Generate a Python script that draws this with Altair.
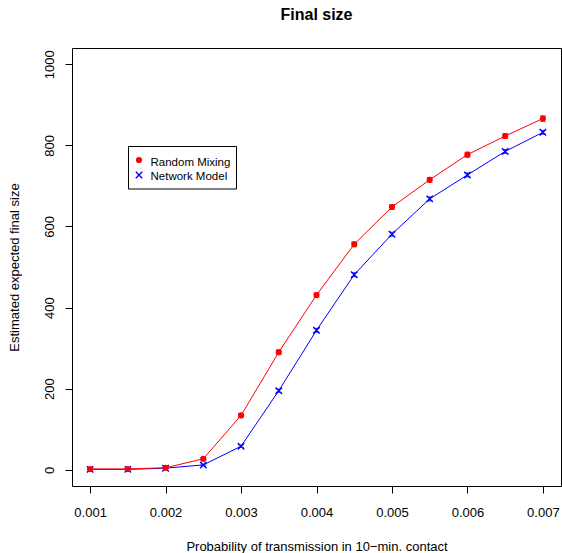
import altair as alt
import pandas as pd

# Transmission probabilities per 10-minute contact
p_transmission = [0.001, 0.0015, 0.002, 0.0025, 0.003, 0.0035, 0.004,
                  0.0045, 0.005, 0.0055, 0.006, 0.0065, 0.007]

# Estimated expected final size and its standard error, per model
random_mixing = [2, 2, 5, 27, 134, 290, 431, 556, 648, 715, 777, 823, 866]
random_mixing_se = [1, 1, 1, 3, 4, 5, 5, 6, 6, 6, 6, 6, 7]
network_model = [1, 1, 4, 12, 58, 195, 344, 481, 581, 668, 727, 785, 832]
network_model_se = [1, 1, 1, 2, 3, 4, 5, 5, 5, 5, 5, 5, 5]

x_ticks = [0.001, 0.002, 0.003, 0.004, 0.005, 0.006, 0.007]
y_ticks = [0, 200, 400, 600, 800, 1000]

models = ["Random Mixing", "Network Model"]
colors = ["#ff0000", "#0000ff"]

FONT = "Liberation Sans"
X_SHAPE = "M-1,-1L1,1M-1,1L1,-1"


def model_frame(name, values, se):
    return pd.DataFrame({
        "p": p_transmission,
        "size": values,
        "lo": [v - e for v, e in zip(values, se)],
        "hi": [v + e for v, e in zip(values, se)],
        "model": name,
    })


rm = model_frame(models[0], random_mixing, random_mixing_se)
nm = model_frame(models[1], network_model, network_model_se)

x_scale = alt.Scale(domain=[0.00076, 0.00724], nice=False, zero=False)
y_scale = alt.Scale(domain=[-40, 1040], nice=False, zero=False)

x_axis = alt.Axis(
    values=x_ticks, format=".3f", grid=False, domain=False,
    tickSize=7, tickColor="black", tickWidth=1,
    labelFont=FONT, labelFontSize=13, labelColor="black",
    labelBaseline="alphabetic", labelPadding=23,
    labelFlush=False, labelOverlap=False,
    title="Probability of transmission in 10\u2212min. contact",
    titleFont=FONT, titleFontSize=13, titleFontWeight="normal",
    titleColor="black", titleBaseline="alphabetic", titleY=64,
)
y_axis = alt.Axis(
    values=y_ticks, format="d", grid=False, domain=False,
    tickSize=7, tickColor="black", tickWidth=1,
    labelFont=FONT, labelFontSize=13, labelColor="black",
    labelAngle=270, labelAlign="center", labelBaseline="alphabetic",
    labelPadding=12, labelFlush=False, labelOverlap=False,
    title="Estimated expected final size",
    titleFont=FONT, titleFontSize=13, titleFontWeight="normal",
    titleColor="black", titleAngle=270, titleAlign="center",
    titleBaseline="alphabetic", titleX=-54, titleY=219,
)

X = alt.X("p:Q", scale=x_scale, axis=x_axis)
Y = alt.Y("size:Q", scale=y_scale, axis=y_axis)


def series_layers(df, color, point_mark):
    line = alt.Chart(df).mark_line(color=color, strokeWidth=1).encode(x=X, y=Y)
    bar = alt.Chart(df).mark_rule(color=color, strokeWidth=1).encode(
        x=X, y=alt.Y("lo:Q", scale=y_scale, axis=y_axis), y2="hi:Q")
    cap_lo = alt.Chart(df).mark_tick(orient="horizontal", size=6, thickness=1,
                                     color=color).encode(
        x=X, y=alt.Y("lo:Q", scale=y_scale, axis=y_axis))
    cap_hi = alt.Chart(df).mark_tick(orient="horizontal", size=6, thickness=1,
                                     color=color).encode(
        x=X, y=alt.Y("hi:Q", scale=y_scale, axis=y_axis))
    pts = alt.Chart(df).mark_point(**point_mark).encode(x=X, y=Y)
    return [line, bar, cap_lo, cap_hi, pts]


red_point = dict(shape="circle", filled=True, color=colors[0], size=38, opacity=1)
blue_point = dict(shape=X_SHAPE, filled=False, color=colors[1], size=42,
                  strokeWidth=1.4, opacity=1)

layers = series_layers(nm, colors[1], blue_point) + \
    series_layers(rm, colors[0], red_point)

# Legend box in the upper-left part of the plot
one = pd.DataFrame({"k": [0]})
legend_box = alt.Chart(one).mark_rect(fill="white", stroke="black", strokeWidth=1).encode(
    x=alt.value(56.5), x2=alt.value(164.5), y=alt.value(98.5), y2=alt.value(141))
leg_rm_sym = alt.Chart(one).mark_point(**red_point).encode(
    x=alt.value(67), y=alt.value(112))
leg_nm_sym = alt.Chart(one).mark_point(**blue_point).encode(
    x=alt.value(67), y=alt.value(127))
leg_rm_txt = alt.Chart(one).mark_text(
    align="left", baseline="alphabetic", font=FONT, fontSize=11.5, color="black"
).encode(x=alt.value(78.5), y=alt.value(117.5), text=alt.value(models[0]))
leg_nm_txt = alt.Chart(one).mark_text(
    align="left", baseline="alphabetic", font=FONT, fontSize=11.5, color="black"
).encode(x=alt.value(78.5), y=alt.value(131.5), text=alt.value(models[1]))

chart = alt.layer(
    *layers, legend_box, leg_rm_sym, leg_nm_sym, leg_rm_txt, leg_nm_txt
).properties(
    width=489, height=438,
    title=alt.TitleParams("Final size", font=FONT, fontSize=16, fontWeight="bold",
                          color="black", anchor="middle", frame="group",
                          baseline="alphabetic", offset=12),
    autosize=alt.AutoSizeParams(type="none"),
    padding={"left": 72, "top": 48, "right": 1, "bottom": 67},
    background="white",
).configure_view(stroke="black", strokeWidth=1)

chart.save("out.html", embed_options={"renderer": "svg", "actions": False})
